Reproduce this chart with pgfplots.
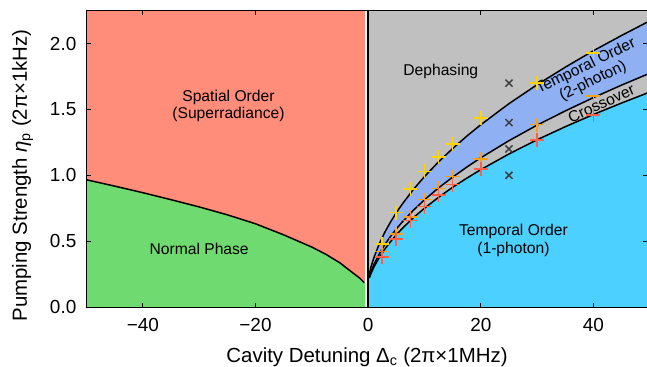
\documentclass[border=0pt]{standalone}
\usepackage{fontspec}
\setmainfont{Liberation Sans}
\usepackage{pgfplots}
\pgfplotsset{compat=1.18}
\definecolor{salmon}{RGB}{255,141,122}
\definecolor{npgreen}{RGB}{111,218,111}
\definecolor{dgray}{RGB}{192,192,192}
\definecolor{twoph}{RGB}{143,176,243}
\definecolor{oneph}{RGB}{76,208,255}
\definecolor{myyellow}{RGB}{255,212,0}
\definecolor{myorange}{RGB}{255,160,20}
\definecolor{myred}{RGB}{255,95,70}
\definecolor{xgray}{RGB}{60,60,60}
\begin{document}
\begin{tikzpicture}
\useasboundingbox (-86.5bp,-60bp) rectangle (560.5bp,307bp);
\begin{axis}[
  scale only axis, width=561bp, height=296.3bp,
  xmin=-50, xmax=49.6, ymin=0, ymax=2.25,
  axis on top,
  axis line style={line width=0.9pt},
  tick style={black, line width=0.9pt},
  major tick length=4.5bp,
  tick align=inside,
  xtick={-40,-20,0,20,40}, xticklabels={−40,−20,0,20,40},
  ytick={0,0.5,1,1.5,2}, yticklabels={0.0,0.5,1.0,1.5,2.0},
  xticklabel style={font=\fontsize{19}{19}\selectfont, inner sep=0pt, anchor=north, yshift=-11bp},
  yticklabel style={font=\fontsize{19}{19}\selectfont, inner sep=0pt, anchor=east, xshift=-10bp},
  every axis x label/.style={at={([yshift=-55bp]axis description cs:0.5,0)}, anchor=base, font=\fontsize{20.5}{20.5}\selectfont},
  every axis y label/.style={at={([xshift=-59.5bp,yshift=-16.6bp]axis description cs:0,0.5)}, rotate=90, anchor=base, font=\fontsize{20.5}{20.5}\selectfont},
  xlabel={Cavity Detuning Δ\textsubscript{c} (2π×1MHz)},
  ylabel={Pumping Strength \textit{η}\textsubscript{p} (2π×1kHz)},
]
% left side regions
\addplot[fill=salmon, draw=none] coordinates {(-50,0) (-0.5,0) (-0.5,2.25) (-50,2.25)} -- cycle;
\addplot[fill=npgreen, draw=none] coordinates {(-50,0) (-50,0.966) (-45,0.918) (-40,0.868) (-35,0.815) (-30,0.760) (-25,0.700) (-20,0.632) (-15,0.548) (-10,0.455) (-7.5,0.400) (-5,0.335) (-3.5,0.285) (-2.5,0.252) (-1.5,0.220) (-0.5,0.180) (-0.5,0)} -- cycle;
% right side regions
\addplot[fill=dgray, draw=none] coordinates {(0,0) (50,0) (50,2.25) (0,2.25)} -- cycle;
\addplot[fill=twoph, draw=none] coordinates {(0.2,0.252) (0.5,0.303) (1,0.372) (2,0.482) (3,0.571) (4,0.647) (5,0.716) (6,0.778) (8,0.891) (10,0.990) (12.5,1.102) (15,1.203) (17.5,1.297) (20,1.384) (25,1.544) (30,1.688) (35,1.821) (40,1.946) (45,2.062) (50,2.173)
 (50,1.775) (45,1.685) (40,1.590) (35,1.489) (30,1.381) (25,1.263) (20,1.133) (17.5,1.062) (15,0.986) (12.5,0.904) (10,0.814) (8,0.733) (6,0.643) (5,0.592) (4,0.537) (3,0.476) (2,0.405) (1,0.320) (0.5,0.267) (0.2,0.229)} -- cycle;
\addplot[fill=oneph, draw=none] coordinates {(0,0) (0,0.220) (0.2,0.220) (0.5,0.253) (1,0.301) (2,0.378) (3,0.442) (4,0.498) (5,0.548) (6,0.594) (8,0.677) (10,0.750) (12.5,0.833) (15,0.909) (17.5,0.978) (20,1.043) (25,1.162) (30,1.270) (35,1.369) (40,1.462) (45,1.549) (50,1.632) (50,0)} -- cycle;
% boundary lines
\addplot[black, line width=1.5pt] coordinates {(-50,0.966) (-45,0.918) (-40,0.868) (-35,0.815) (-30,0.760) (-25,0.700) (-20,0.632) (-15,0.548) (-10,0.455) (-7.5,0.400) (-5,0.335) (-3.5,0.285) (-2.5,0.252) (-1.5,0.220) (-0.7,0.185)};
\addplot[black, line width=1.6pt] coordinates {(0,0) (0,2.25)};
\addplot[black, line width=1.5pt] coordinates {(0.2,0.252) (0.5,0.303) (1,0.372) (2,0.482) (3,0.571) (4,0.647) (5,0.716) (6,0.778) (8,0.891) (10,0.990) (12.5,1.102) (15,1.203) (17.5,1.297) (20,1.384) (25,1.544) (30,1.688) (35,1.821) (40,1.946) (45,2.062) (50,2.173)};
\addplot[black, line width=1.5pt] coordinates {(0.2,0.229) (0.5,0.267) (1,0.320) (2,0.405) (3,0.476) (4,0.537) (5,0.592) (6,0.643) (8,0.733) (10,0.814) (12.5,0.904) (15,0.986) (17.5,1.062) (20,1.133) (25,1.263) (30,1.381) (35,1.489) (40,1.590) (45,1.685) (50,1.775)};
\addplot[black, line width=1.5pt] coordinates {(0.2,0.220) (0.5,0.253) (1,0.301) (2,0.378) (3,0.442) (4,0.498) (5,0.548) (6,0.594) (8,0.677) (10,0.750) (12.5,0.833) (15,0.909) (17.5,0.978) (20,1.043) (25,1.162) (30,1.270) (35,1.369) (40,1.462) (45,1.549) (50,1.632)};
% measured points
\addplot[only marks, mark=+, mark size=7bp, draw=myyellow, mark options={draw=myyellow, line width=1.6pt}] coordinates {(2.5,0.48) (5,0.717) (7.5,0.895) (10,1.03) (12.5,1.138) (15,1.24) (20,1.435) (30,1.70) (40,1.93) (50,2.14)};
\addplot[only marks, mark=+, mark size=7bp, draw=myorange, mark options={draw=myorange, line width=1.6pt}] coordinates {(2.5,0.42) (5,0.555) (7.5,0.685) (10,0.815) (12.5,0.90) (15,0.99) (20,1.125) (30,1.385) (40,1.60) (50,1.79)};
\addplot[only marks, mark=+, mark size=7bp, draw=myred, mark options={draw=myred, line width=1.6pt}] coordinates {(2.5,0.38) (5,0.515) (7.5,0.656) (10,0.763) (12.5,0.85) (15,0.93) (20,1.05) (30,1.27) (40,1.46) (50,1.62)};
\addplot[only marks, mark=x, mark size=5bp, draw=xgray, mark options={draw=xgray, line width=1.5pt}] coordinates {(25,1.0) (25,1.2) (25,1.4) (25,1.7)};
% annotations
\node[align=center, font=\fontsize{15.7}{17}\selectfont] at (axis cs:-24.8,1.525) {Spatial Order\\(Superradiance)};
\node[font=\fontsize{15.7}{17}\selectfont] at (axis cs:-30,0.44) {Normal Phase};
\node[font=\fontsize{15.7}{17}\selectfont] at (axis cs:12.9,1.79) {Dephasing};
\node[align=center, font=\fontsize{15.7}{17.5}\selectfont] at (axis cs:25.8,0.506) {Temporal Order\\(1-photon)};
\node[align=center, rotate=26, inner sep=0pt, font=\fontsize{15.7}{16.5}\selectfont] at (axis cs:39.3,1.77) {Temporal Order\\(2-photon)};
\node[rotate=24.5, inner sep=0pt, font=\fontsize{15.7}{17}\selectfont] at (axis cs:41.4,1.544) {Crossover};
\end{axis}
\end{tikzpicture}
\end{document}
